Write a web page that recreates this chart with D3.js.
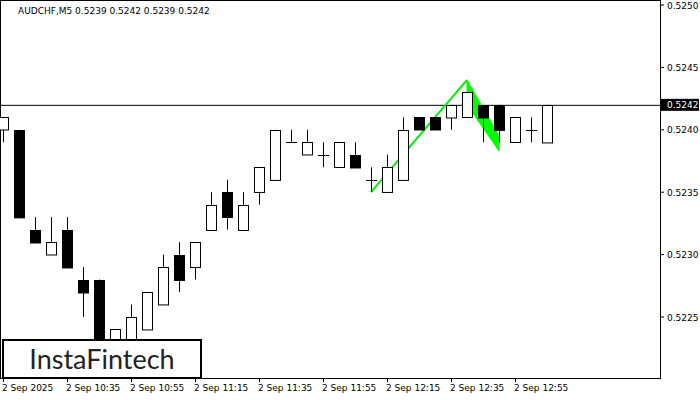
<!DOCTYPE html>
<html>
<head>
<meta charset="utf-8">
<script src="https://d3js.org/d3.v7.min.js"></script>
<style>
  body { margin: 0; background: #fff; }
  text { font-family: "DejaVu Sans", sans-serif; }
</style>
</head>
<body>
<script>
// candles, index 0 = 2 Sep 10:15, M5
const opens  = [.5240,.5240,.5232,.5230,.5232,.5228,.5228,.5222,.5223,.5224,.5226,.5230,.5229,.5232,.5235,.5232,.5235,.5236,.5239,.5238,.5238,.5237,.5238,.5236,.5235,.5236,.5241,.5241,.5241,.5241,.5242,.5242,.5239,.5240,.5239];
const highs  = [.5241,.5240,.5233,.5233,.5233,.5229,.5228,.5224,.5226,.5227,.5230,.5231,.5231,.5235,.5236,.5235,.5237,.5240,.5240,.5240,.5239,.5239,.5239,.5237,.5238,.5241,.5241,.5241,.5242,.5243,.5242,.5242,.5241,.5241,.5242];
const lows   = [.5239,.5233,.5231,.5230,.5229,.5225,.5221,.5221,.5223,.5224,.5226,.5227,.5228,.5232,.5232,.5232,.5234,.5236,.5239,.5238,.5237,.5237,.5237,.5235,.5235,.5236,.5240,.5240,.5240,.5241,.5239,.5239,.5239,.5239,.5239];
const closes = [.5241,.5233,.5231,.5231,.5229,.5227,.5222,.5224,.5225,.5227,.5229,.5228,.5231,.5234,.5233,.5234,.5237,.5240,.5239,.5239,.5238,.5239,.5237,.5236,.5237,.5240,.5240,.5240,.5242,.5243,.5241,.5240,.5241,.5240,.5242];
const timeTicks = [0, 4, 8, 12, 16, 20, 24, 28, 32];
const timeLabels = ['2 Sep 2025','2 Sep 10:35','2 Sep 10:55','2 Sep 11:15','2 Sep 11:35','2 Sep 11:55','2 Sep 12:15','2 Sep 12:35','2 Sep 12:55'];
const priceTicks = [.5225, .5230, .5235, .5240, .5245, .5250];
const lastPrice = .5242;
const patternLine = [[23, .5235], [29, .5244]];
const flag = [[29, .5244], [31, .52395], [31, .52383], [29, .5242]];

const W = 700, H = 400, right = 660, bottom = 378;
const svg = d3.select('body').append('svg').attr('width', W).attr('height', H);
const x = d3.scaleLinear().domain([0, 41.0625]).range([3, right]);
const y = d3.scaleLinear().domain([.5225, .5250]).range([317, 5]);

svg.append('rect').attr('x', 0.5).attr('y', 0.5).attr('width', right).attr('height', bottom)
  .attr('fill', 'none').attr('stroke', '#000');

// price line
svg.append('line').attr('x1', 0).attr('x2', right).attr('y1', y(lastPrice) + .5).attr('y2', y(lastPrice) + .5)
  .attr('stroke', '#000');

// pattern
svg.append('polygon').attr('points', flag.map(p => [x(p[0]), y(p[1])].join(',')).join(' '))
  .attr('fill', '#00ff00').attr('stroke', '#00ff00');
svg.append('path').attr('d', d3.line().x(p => x(p[0])).y(p => y(p[1]))(patternLine))
  .attr('stroke', '#00ee00').attr('stroke-width', 2).attr('fill', 'none');

const g = svg.append('g').selectAll('g').data(opens.map((o, i) => i)).enter().append('g');
g.append('line')
  .attr('x1', i => Math.round(x(i)) + .5).attr('x2', i => Math.round(x(i)) + .5)
  .attr('y1', i => y(highs[i])).attr('y2', i => y(lows[i])).attr('stroke', '#000');
g.filter(i => opens[i] !== closes[i]).append('rect')
  .attr('x', i => Math.round(x(i)) - 4.5)
  .attr('y', i => Math.round(y(Math.max(opens[i], closes[i]))) + .5)
  .attr('width', 10)
  .attr('height', i => Math.abs(y(opens[i]) - y(closes[i])))
  .attr('fill', i => closes[i] >= opens[i] ? '#fff' : '#000')
  .attr('stroke', '#000');
g.filter(i => opens[i] === closes[i]).append('line')
  .attr('x1', i => Math.round(x(i)) - 5).attr('x2', i => Math.round(x(i)) + 6)
  .attr('y1', i => Math.round(y(opens[i])) + .5).attr('y2', i => Math.round(y(opens[i])) + .5)
  .attr('stroke', '#000');

// price axis
const pa = svg.append('g');
priceTicks.forEach(p => {
  pa.append('line').attr('x1', right).attr('x2', right + 4).attr('y1', y(p)).attr('y2', y(p)).attr('stroke', '#000');
  pa.append('text').attr('x', right + 7).attr('y', y(p) + 3.5).attr('font-size', 9).text(p.toFixed(4));
});
pa.append('rect').attr('x', right + 1).attr('y', y(lastPrice) - 6).attr('width', 38).attr('height', 12).attr('fill', '#000');
pa.append('text').attr('x', right + 7).attr('y', y(lastPrice) + 3.5).attr('font-size', 9).attr('fill', '#fff').text(lastPrice.toFixed(4));

// time axis
timeTicks.forEach((t, k) => {
  svg.append('line').attr('x1', Math.round(x(t)) + .5).attr('x2', Math.round(x(t)) + .5)
    .attr('y1', bottom).attr('y2', bottom + 4).attr('stroke', '#000');
  svg.append('text').attr('x', x(t) - 1).attr('y', bottom + 13).attr('font-size', 9).text(timeLabels[k]);
});

svg.append('text').attr('x', 18).attr('y', 14).attr('font-size', 9)
  .text('AUDCHF,M5  0.5239 0.5242 0.5239 0.5242');

// logo
svg.append('rect').attr('x', 3).attr('y', 340).attr('width', 198).attr('height', 38)
  .attr('fill', '#fff').attr('stroke', '#000').attr('stroke-width', 2);
svg.append('text').attr('x', 102).attr('y', 369).attr('text-anchor', 'middle').attr('font-size', 27)
  .attr('fill', '#222').style('font-family', 'Lato, "Open Sans", sans-serif').text('InstaFintech');
</script>
</body>
</html>
